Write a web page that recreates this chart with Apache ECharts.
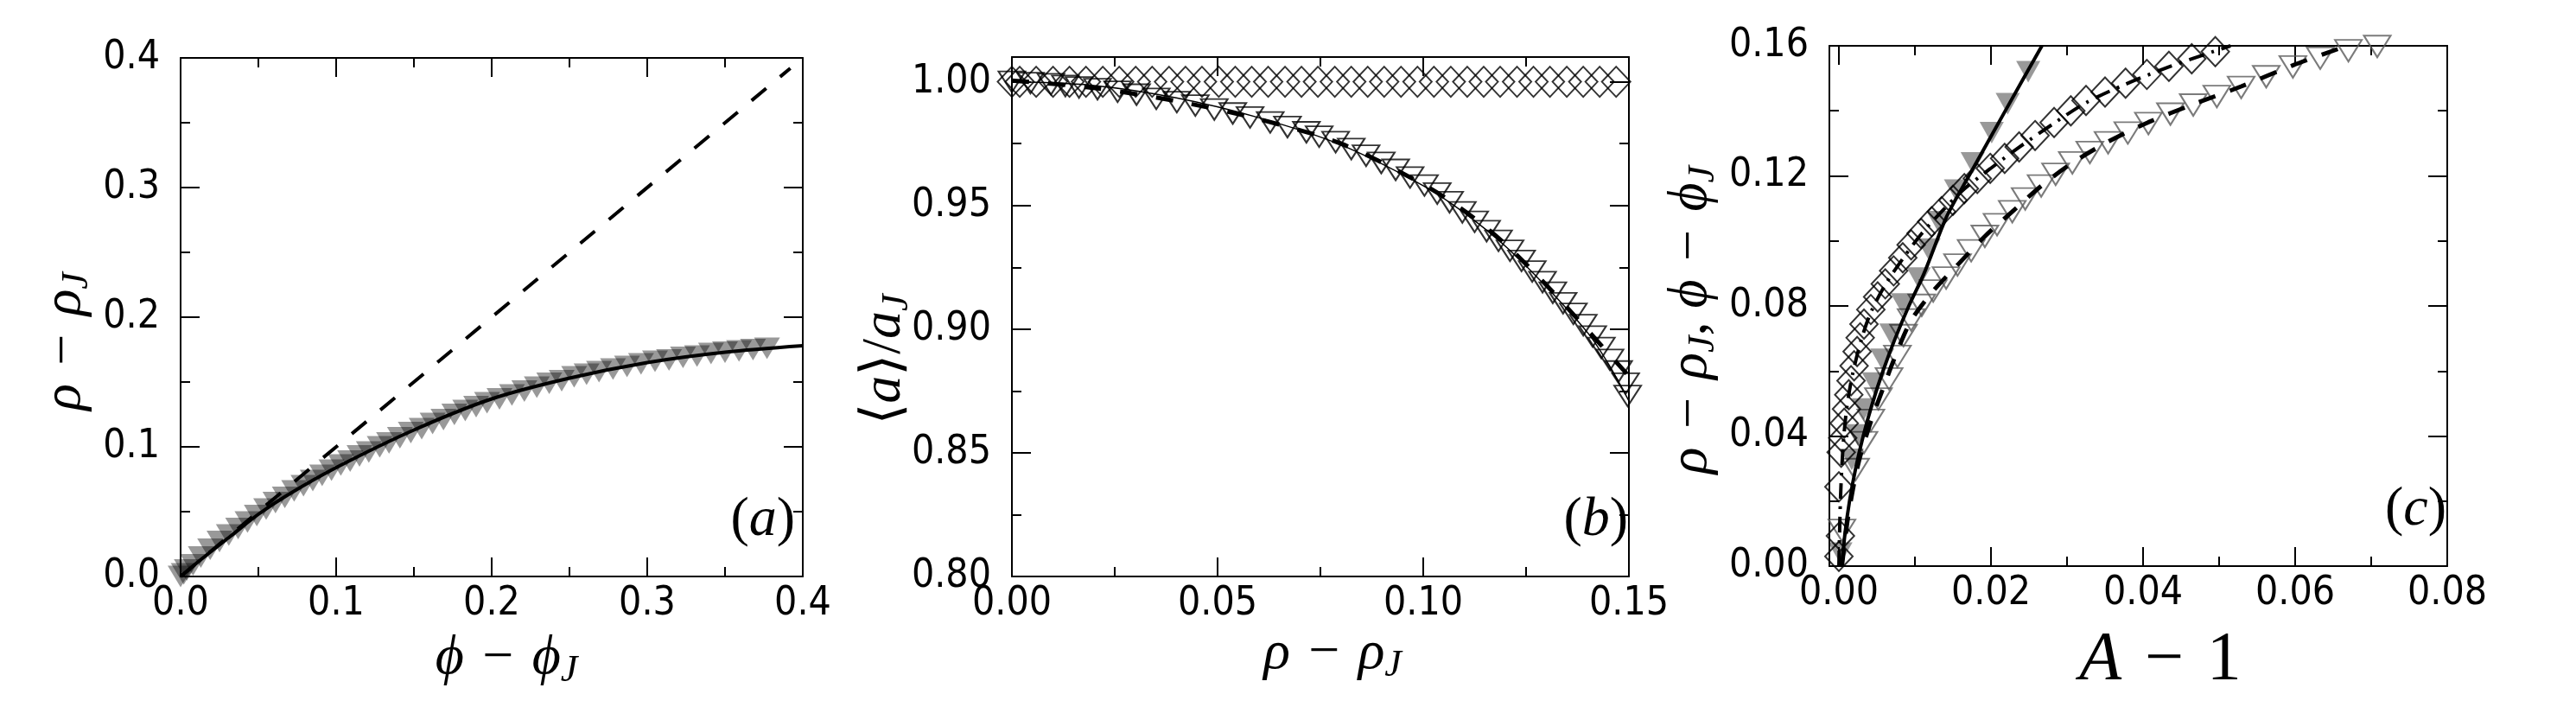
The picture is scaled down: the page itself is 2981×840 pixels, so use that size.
<!DOCTYPE html>
<html lang="en">
<head>
<meta charset="UTF-8">
<title>rho - rho_J panels</title>
<script src="https://cdn.jsdelivr.net/npm/echarts@6/dist/echarts.min.js"></script>
<style>html, body { margin: 0; padding: 0; background: #fff; }</style>
</head>
<body>
<div id="main" style="width: 2981px; height: 840px;"></div>
<script>
// ---- panel (a): rho - rhoJ vs phi - phiJ ----
var aTriX = [0, 0.002, 0.004, 0.008, 0.013, 0.019, 0.025, 0.031, 0.037, 0.043, 0.049, 0.055, 0.061, 0.067, 0.073, 0.079, 0.085, 0.091, 0.097, 0.103, 0.109, 0.115, 0.121, 0.128, 0.134, 0.141, 0.148, 0.155, 0.162, 0.169, 0.176, 0.183, 0.190, 0.197, 0.205, 0.213, 0.221, 0.229, 0.237, 0.245, 0.253, 0.261, 0.269, 0.278, 0.287, 0.296, 0.305, 0.314, 0.323, 0.332, 0.341, 0.350, 0.359, 0.368, 0.377];
var aTriY = [0, 0.002, 0.005, 0.009, 0.015, 0.021, 0.027, 0.032, 0.037, 0.042, 0.047, 0.052, 0.057, 0.061, 0.066, 0.070, 0.074, 0.078, 0.082, 0.086, 0.089, 0.093, 0.096, 0.100, 0.103, 0.107, 0.111, 0.114, 0.118, 0.121, 0.125, 0.128, 0.131, 0.134, 0.137, 0.140, 0.143, 0.146, 0.149, 0.151, 0.154, 0.156, 0.158, 0.160, 0.162, 0.164, 0.166, 0.167, 0.169, 0.170, 0.172, 0.173, 0.174, 0.175, 0.176];
var aFitX = [0, 0.013, 0.032, 0.05, 0.069, 0.1, 0.15, 0.2, 0.25, 0.3, 0.35, 0.4];
var aFitY = [0, 0.013, 0.031, 0.048, 0.063, 0.084, 0.113, 0.137, 0.153, 0.165, 0.173, 0.178];
var aDiagX = [0, 0.392];
var aDiagY = [0, 0.392];
var aMajor = [0, 0.1, 0.2, 0.3, 0.4];
var aMinor = [0.05, 0.15, 0.25, 0.35];

// ---- panel (b): <a>/aJ vs rho - rhoJ ----
var bDiaX = [0.0000, 0.0019, 0.0059, 0.0100, 0.0140, 0.0180, 0.0221, 0.0261, 0.0301, 0.0341, 0.0382, 0.0422, 0.0462, 0.0503, 0.0543, 0.0583, 0.0623, 0.0664, 0.0704, 0.0744, 0.0785, 0.0825, 0.0865, 0.0905, 0.0946, 0.0986, 0.1026, 0.1067, 0.1107, 0.1147, 0.1187, 0.1228, 0.1268, 0.1308, 0.1349, 0.1389, 0.1429, 0.1469];
var bDiaY = [1.0, 1.0, 1.0, 1.0, 1.0, 1.0, 1.0, 1.0, 1.0, 1.0, 1.0, 1.0, 1.0, 1.0, 1.0, 1.0, 1.0, 1.0, 1.0, 1.0, 1.0, 1.0, 1.0, 1.0, 1.0, 1.0, 1.0, 1.0, 1.0, 1.0, 1.0, 1.0, 1.0, 1.0, 1.0, 1.0, 1.0, 1.0];
var bTriX = [0.0000, 0.0045, 0.0095, 0.0130, 0.0163, 0.0208, 0.0257, 0.0303, 0.0351, 0.0401, 0.0446, 0.0492, 0.0537, 0.0579, 0.0628, 0.0670, 0.0716, 0.0747, 0.0787, 0.0825, 0.0861, 0.0898, 0.0933, 0.0968, 0.1003, 0.1034, 0.1064, 0.1095, 0.1125, 0.1154, 0.1183, 0.1211, 0.1239, 0.1265, 0.1290, 0.1315, 0.1340, 0.1365, 0.1389, 0.1412, 0.1433, 0.1454, 0.1475, 0.1492, 0.1497];
var bTriY = [1.0000, 0.9995, 0.9990, 0.9983, 0.9977, 0.9970, 0.9960, 0.9948, 0.9931, 0.9918, 0.9904, 0.9888, 0.9872, 0.9856, 0.9836, 0.9817, 0.9796, 0.9778, 0.9756, 0.9728, 0.9701, 0.9672, 0.9644, 0.9613, 0.9581, 0.9548, 0.9513, 0.9472, 0.9434, 0.9396, 0.9357, 0.9317, 0.9276, 0.9233, 0.9190, 0.9147, 0.9105, 0.9062, 0.9016, 0.8970, 0.8924, 0.8876, 0.8829, 0.8780, 0.8730];
var bDashX = [0, 0.02, 0.04, 0.06, 0.08, 0.10, 0.11, 0.12, 0.13, 0.14, 0.15];
var bDashY = [1.0005, 0.9975, 0.9922, 0.9849, 0.9750, 0.9585, 0.9478, 0.9343, 0.9177, 0.8995, 0.8810];
var bThinX = [0, 0.02, 0.04, 0.06, 0.08, 0.10, 0.11, 0.12, 0.13, 0.14, 0.145, 0.15];
var bThinY = [1.0, 0.9985, 0.9935, 0.9855, 0.9745, 0.9580, 0.9470, 0.9335, 0.9170, 0.8985, 0.8860, 0.8710];
var bXMajor = [0, 0.05, 0.10, 0.15];
var bXMinor = [0.025, 0.075, 0.125];
var bYMajor = [0.80, 0.85, 0.90, 0.95, 1.00];
var bYMinor = [0.825, 0.875, 0.925, 0.975];

// ---- panel (c): rho - rhoJ, phi - phiJ vs A - 1 ----
var cFillX = [0.0002, 0.0017, 0.0025, 0.0033, 0.0046, 0.0057, 0.0069, 0.0084, 0.0105, 0.0118, 0.0131, 0.0154, 0.0176, 0.0201, 0.0222, 0.0249];
var cFillY = [0.0040, 0.0328, 0.0403, 0.0483, 0.0563, 0.0636, 0.0713, 0.0806, 0.0886, 0.0975, 0.1059, 0.1156, 0.1240, 0.1333, 0.1422, 0.1520];
var cSolidX = [0.0004, 0.0008, 0.0014, 0.0022, 0.0032, 0.0044, 0.0058, 0.0074, 0.0092, 0.0112, 0.0142, 0.0171, 0.0220, 0.0267];
var cSolidY = [0.0000, 0.0100, 0.0200, 0.0300, 0.0400, 0.0500, 0.0600, 0.0700, 0.0800, 0.0900, 0.1076, 0.1200, 0.1405, 0.1600];
var cDiaX = [0.0000, 0.0002, 0.0000, 0.0003, 0.0005, 0.0007, 0.0010, 0.0013, 0.0016, 0.0020, 0.0024, 0.0028, 0.0033, 0.0042, 0.0051, 0.0061, 0.0072, 0.0084, 0.0095, 0.0108, 0.0122, 0.0135, 0.0150, 0.0165, 0.0182, 0.0199, 0.0218, 0.0237, 0.0258, 0.0283, 0.0305, 0.0325, 0.0350, 0.0377, 0.0405, 0.0434, 0.0464, 0.0495, 0.0527];
var cDiaY = [0.0030, 0.0093, 0.0244, 0.0350, 0.0394, 0.0439, 0.0483, 0.0527, 0.0570, 0.0616, 0.0660, 0.0702, 0.0744, 0.0789, 0.0828, 0.0868, 0.0908, 0.0948, 0.0988, 0.1023, 0.1059, 0.1090, 0.1125, 0.1161, 0.1192, 0.1223, 0.1254, 0.1289, 0.1324, 0.1364, 0.1400, 0.1432, 0.1458, 0.1485, 0.1512, 0.1537, 0.1560, 0.1582, 0.1603];
var cDotX = [0.0000, 0.0002, 0.0005, 0.0010, 0.0018, 0.0030, 0.0042, 0.0061, 0.0084, 0.0108, 0.0135, 0.0165, 0.0199, 0.0237, 0.0283, 0.0325, 0.0377, 0.0434, 0.0515];
var cDotY = [0.0000, 0.0200, 0.0350, 0.0480, 0.0590, 0.0700, 0.0780, 0.0865, 0.0945, 0.1020, 0.1090, 0.1160, 0.1222, 0.1288, 0.1362, 0.1425, 0.1482, 0.1535, 0.1600];
var cOpenX = [0.0004, 0.0022, 0.0033, 0.0042, 0.0052, 0.0066, 0.0077, 0.0085, 0.0095, 0.0109, 0.0124, 0.0141, 0.0156, 0.0174, 0.0192, 0.0208, 0.0228, 0.0245, 0.0266, 0.0285, 0.0307, 0.0330, 0.0354, 0.0380, 0.0407, 0.0436, 0.0466, 0.0497, 0.0529, 0.0562, 0.0597, 0.0633, 0.0670, 0.0708];
var cOpenY = [0.0110, 0.0297, 0.0380, 0.0448, 0.0514, 0.0576, 0.0645, 0.0709, 0.0757, 0.0802, 0.0846, 0.0886, 0.0926, 0.0970, 0.1014, 0.1050, 0.1090, 0.1129, 0.1169, 0.1205, 0.1240, 0.1272, 0.1302, 0.1332, 0.1361, 0.1390, 0.1418, 0.1444, 0.1472, 0.1505, 0.1535, 0.1562, 0.1585, 0.1598];
var cDashX = [0.0004, 0.0012, 0.0025, 0.0040, 0.0057, 0.0075, 0.0095, 0.0124, 0.0156, 0.0192, 0.0228, 0.0266, 0.0307, 0.0354, 0.0407, 0.0466, 0.0529, 0.0597, 0.0656];
var cDashY = [0.0000, 0.0150, 0.0310, 0.0430, 0.0540, 0.0650, 0.0755, 0.0846, 0.0926, 0.1014, 0.1090, 0.1169, 0.1240, 0.1305, 0.1365, 0.1420, 0.1475, 0.1540, 0.1590];
var cXMajor = [0, 0.02, 0.04, 0.06, 0.08];
var cXMinor = [0.01, 0.03, 0.05, 0.07];
var cYMajor = [0, 0.04, 0.08, 0.12, 0.16];
var cYMinor = [0.02, 0.06, 0.10, 0.14];

var tickFont = "'DejaVu Sans Condensed', 'DejaVu Sans', sans-serif";
var mathFont = "'Liberation Serif', 'DejaVu Serif', serif";

function pairs(xs, ys) {
  return xs.map(function (x, i) { return [x, ys[i]]; });
}

// 4 axes per side pair: main (line+labels), minor ticks, mirror main, mirror minor
function makeAxes(dim, g, min, max, major, minor, digits) {
  var sides = dim === 'x' ? ['bottom', 'top'] : ['left', 'right'];
  var out = [];
  sides.forEach(function (side, s) {
    [major, minor].forEach(function (vals, k) {
      out.push({
        type: 'value', gridIndex: g, min: min, max: max, position: side,
        axisLine: { show: k === 0, onZero: false, lineStyle: { color: '#000', width: 2 } },
        axisTick: { show: true, inside: true, length: k === 0 ? 22 : 11, customValues: vals,
                    lineStyle: { color: '#000', width: 2 } },
        axisLabel: {
          show: s === 0 && k === 0, customValues: major,
          formatter: function (v) { return v.toFixed(digits); },
          fontFamily: tickFont, fontSize: 46, color: '#000',
          margin: dim === 'x' ? 9 : 24, showMinLabel: true, showMaxLabel: true
        },
        splitLine: { show: false }
      });
    });
  });
  return out;
}

var xAxes = [].concat(
  makeAxes('x', 0, 0, 0.4, aMajor, aMinor, 1),
  makeAxes('x', 1, 0, 0.15, bXMajor, bXMinor, 2),
  makeAxes('x', 2, -0.00125, 0.08, cXMajor, cXMinor, 2)
);
var yAxes = [].concat(
  makeAxes('y', 0, 0, 0.4, aMajor, aMinor, 1),
  makeAxes('y', 1, 0.80, 1.01, bYMajor, bYMinor, 2),
  makeAxes('y', 2, 0, 0.16, cYMajor, cYMinor, 2)
);

function lineSeries(g, xs, ys, width, dash, z) {
  return {
    type: 'line', xAxisIndex: g * 4, yAxisIndex: g * 4, data: pairs(xs, ys),
    symbol: 'none', smooth: 0.3, silent: true, z: z,
    lineStyle: { color: '#000', width: width, type: dash }
  };
}
function scatterSeries(g, xs, ys, symbol, rotate, size, itemStyle, z) {
  return {
    type: 'scatter', xAxisIndex: g * 4, yAxisIndex: g * 4, data: pairs(xs, ys),
    symbol: symbol, symbolRotate: rotate, symbolSize: size, silent: true, z: z,
    itemStyle: itemStyle
  };
}
var hollowBlack = { color: 'rgba(0,0,0,0)', borderColor: '#000', borderWidth: 2 };
var hollowGrey = { color: 'rgba(0,0,0,0)', borderColor: '#5a5a5a', borderWidth: 2 };
var halfGrey = { color: 'rgba(0,0,0,0.5)' };

var series = [
  // (a)
  scatterSeries(0, aTriX, aTriY, 'triangle', 180, [30, 25], halfGrey, 2),
  lineSeries(0, aDiagX, aDiagY, 4, [22, 21], 3),
  lineSeries(0, aFitX, aFitY, 4, 'solid', 4),
  // (b)
  scatterSeries(1, bDiaX, bDiaY, 'diamond', 0, [33, 35], hollowBlack, 2),
  scatterSeries(1, bTriX, bTriY, 'triangle', 180, [31, 24], hollowBlack, 2),
  lineSeries(1, bThinX, bThinY, 1.5, 'solid', 3),
  lineSeries(1, bDashX, bDashY, 5, [20, 22], 4),
  // (c)
  scatterSeries(2, cOpenX, cOpenY, 'triangle', 180, [31, 25], hollowGrey, 2),
  scatterSeries(2, cFillX, cFillY, 'triangle', 180, [28, 25], halfGrey, 2),
  scatterSeries(2, cDiaX, cDiaY, 'diamond', 0, [32, 34], hollowBlack, 2),
  lineSeries(2, cSolidX, cSolidY, 4, 'solid', 4),
  lineSeries(2, cDashX, cDashY, 5, [20, 18], 4),
  lineSeries(2, cDotX, cDotY, 4, [18, 9, 3, 9], 4)
];

var rich = {
  i: { fontFamily: mathFont, fontStyle: 'italic', fontSize: 64, lineHeight: 72, color: '#000' },
  m: { fontFamily: mathFont, fontSize: 64, lineHeight: 72, color: '#000' },
  s: { fontFamily: mathFont, fontStyle: 'italic', fontSize: 44, lineHeight: 42, verticalAlign: 'bottom', color: '#000' },
  I: { fontFamily: mathFont, fontStyle: 'italic', fontSize: 80, lineHeight: 86, color: '#000' },
  M: { fontFamily: mathFont, fontSize: 80, lineHeight: 86, color: '#000' }
};
var MINUS = '\u2004\u2212\u2004';
function mathText(x, y, text, rot, align) {
  return {
    type: 'text', x: x, y: y, rotation: rot || 0, silent: true,
    style: { text: text, rich: rich, align: align || 'center', verticalAlign: 'middle', fill: '#000' }
  };
}

var option = {
  animation: false,
  backgroundColor: '#fff',
  grid: [
    { left: 209, top: 67, width: 720, height: 600, outerBoundsMode: 'none' },
    { left: 1171, top: 66, width: 714, height: 601, outerBoundsMode: 'none' },
    { left: 2117, top: 53, width: 715, height: 602, outerBoundsMode: 'none' }
  ],
  xAxis: xAxes,
  yAxis: yAxes,
  series: series,
  graphic: [
    mathText(586, 762, '{i|ϕ}{m|' + MINUS + '}{i|ϕ}{s|J}'),
    mathText(75, 395, '{i|ρ}{m|' + MINUS + '}{i|ρ}{s|J}', Math.PI / 2),
    mathText(1542, 756, '{i|ρ}{m|' + MINUS + '}{i|ρ}{s|J}'),
    mathText(1024, 416, '{m|⟨}{i|a}{m|⟩/}{i|a}{s|J}', Math.PI / 2),
    mathText(2500, 765, '{I|A}{M|' + MINUS + '1}'),
    mathText(1957, 370, '{i|ρ}{m|' + MINUS + '}{i|ρ}{s|J}{m|, }{i|ϕ}{m|' + MINUS + '}{i|ϕ}{s|J}', Math.PI / 2),
    mathText(920, 602, '{m|(}{i|a}{m|)}', 0, 'right'),
    mathText(1884, 602, '{m|(}{i|b}{m|)}', 0, 'right'),
    mathText(2831, 590, '{m|(}{i|c}{m|)}', 0, 'right')
  ]
};

var myChart = echarts.init(document.getElementById('main'));
myChart.setOption(option);
</script>
</body>
</html>
